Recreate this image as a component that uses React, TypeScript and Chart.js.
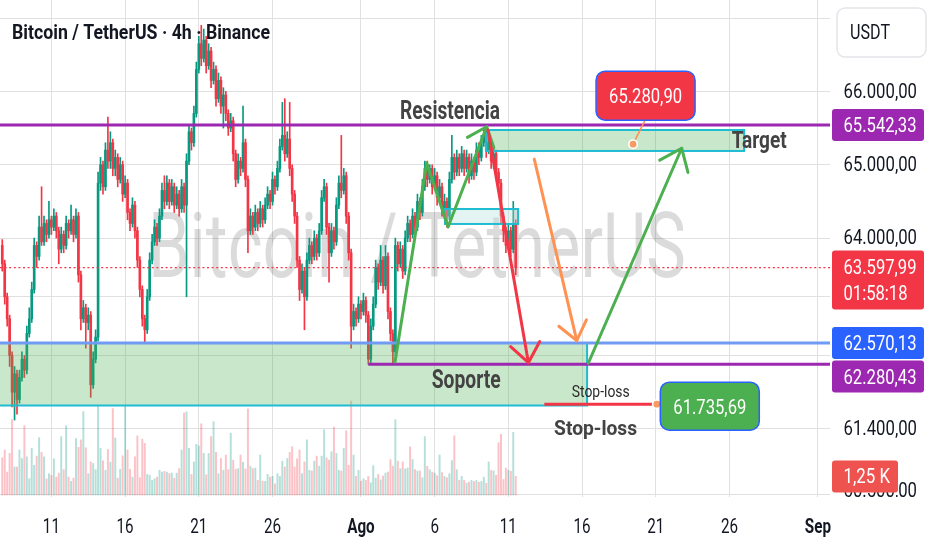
import React, { useEffect, useRef } from 'react';
import { Chart, registerables } from 'chart.js';
Chart.register(...registerables);

// ---------------- data ----------------
// x unit: day of July (Aug d = 31 + d, Sep 1 = 63)
const firstCandleDay = 7 + 4 / 6; // 7 Jul 16:00
const candleStepDays = 1 / 6; // 4h candles
const firstOpen = 63900;

const closes = [
  63650, 63200, 62900, 62400, 61900, 62150, 61800, 62100, 62350, 62200,
  62700, 62900, 63300, 63900, 63750, 64150, 63950, 64200, 64050, 64250,
  64150, 64300, 64100, 63850, 64050, 63900, 64200, 64100, 64250, 64050,
  64300, 63500, 62900, 63050, 62850, 62950, 62000, 62350, 62650, 64750,
  65000, 64700, 65200, 65050, 65300, 64950, 65100, 64800, 65000, 64600,
  64750, 64350, 64200, 64450, 64100, 63700, 63300, 62900, 62750, 63200,
  63700, 63950, 64150, 64000, 64300, 64650, 64500, 64750, 64500, 64700,
  64450, 64600, 64400, 64700, 64450, 65050, 65450, 65300, 65700, 66300,
  66650, 66450, 66700, 66350, 66550, 66150, 66300, 65900, 66150, 65800,
  65950, 65700, 65500, 65600, 65150, 64800, 65050, 64950, 65300, 64800,
  64100, 64300, 64150, 64350, 64200, 64400, 64250, 64450, 64600, 64500,
  64800, 64700, 64950, 65250, 65400, 65150, 65350, 64950, 64600, 64300,
  63700, 63300, 63550, 63200, 63700, 63900, 63750, 64000, 63800, 64100,
  64550, 64700, 64150, 63800, 64100, 63950, 64450, 64750, 64650, 64850,
  64300, 63800, 62800, 63000, 62900, 63100, 63000, 63150, 62950, 62350,
  62800, 63100, 63600, 63400, 63700, 63350, 63750, 63000, 62700, 62450,
  63900, 63650, 63850, 63550, 64000, 64200, 64050, 64300, 64150, 64500,
  64350, 64700, 64950, 64800, 64950, 64700, 64850, 64550, 64700, 64400,
  64500, 64300, 64800, 65100, 64900, 65100, 64950, 65150, 64950, 65100,
  64850, 65050, 64900, 65200, 65100, 65300, 65400, 65200, 65300, 65050,
  65150, 64900, 64750, 64300, 64100, 63900, 64100, 63850, 64200, 63597.99,
];

const highs = [
  63980, 63700, 63250, 62950, 62450, 62250, 62200, 62200, 62450, 62400,
  62800, 63050, 63400, 64000, 63950, 64300, 64700, 64300, 64250, 64500,
  64300, 64400, 64350, 64150, 64150, 64100, 64300, 64250, 64450, 64300,
  64400, 64350, 63550, 63150, 63100, 63050, 63000, 62450, 62750, 64900,
  65100, 65050, 65300, 65650, 65450, 65350, 65200, 65150, 65100, 65050,
  64850, 64800, 64400, 64550, 64500, 64150, 63750, 63350, 62950, 63300,
  63800, 64050, 64250, 64200, 64400, 64750, 64850, 64850, 64800, 64800,
  64750, 64700, 64650, 64800, 64750, 65150, 65550, 65500, 65800, 66400,
  66750, 66900, 66850, 66750, 66650, 66600, 66400, 66350, 66250, 66200,
  66050, 66000, 65750, 65700, 65650, 65200, 65150, 65100, 65800, 65350,
  64850, 64400, 64350, 64450, 64400, 64500, 64450, 64550, 64700, 64650,
  64900, 64850, 65050, 65350, 65850, 65900, 65450, 65850, 65000, 64650,
  64350, 63750, 63650, 63600, 63800, 64000, 63950, 64100, 64050, 64200,
  64650, 64800, 64750, 64200, 64200, 64150, 64550, 64850, 65400, 64950,
  64900, 64350, 63850, 63100, 63050, 63200, 63150, 63250, 63200, 63000,
  62900, 63200, 63700, 63650, 63900, 63750, 63900, 63800, 63050, 62750,
  64000, 63950, 63950, 63900, 64100, 64300, 64250, 64400, 64350, 64600,
  64550, 64800, 65050, 65050, 65000, 65000, 64950, 64900, 64800, 64750,
  64600, 64550, 64900, 65400, 65150, 65200, 65150, 65250, 65200, 65200,
  65150, 65150, 65100, 65300, 65300, 65400, 65480, 65520, 65400, 65350,
  65250, 65200, 64950, 64800, 64350, 64150, 64200, 64150, 64500, 64250,
];

const lows = [
  63550, 63100, 62800, 62250, 61700, 61520, 61600, 61750, 62050, 62100,
  62150, 62650, 62850, 63250, 63600, 63700, 63900, 63900, 63950, 64000,
  64050, 64100, 64000, 63650, 63800, 63800, 63850, 64000, 64050, 63950,
  64000, 63400, 62750, 62850, 62500, 62750, 61830, 61950, 62300, 62600,
  64650, 64600, 64650, 64950, 64950, 64850, 64850, 64700, 64750, 64500,
  64550, 64250, 64100, 64150, 64000, 63600, 63200, 62800, 62560, 62700,
  63150, 63650, 63900, 63900, 63950, 64250, 64400, 64450, 64400, 64450,
  64350, 64400, 64300, 64350, 64350, 63200, 65000, 65200, 65250, 65650,
  66250, 66350, 66400, 66250, 66300, 66050, 66100, 65800, 65850, 65700,
  65500, 65600, 65400, 65450, 65050, 64700, 64750, 64850, 64900, 64700,
  63800, 64050, 64050, 64100, 64100, 64150, 64150, 64200, 64400, 64400,
  64450, 64600, 64650, 64900, 65200, 65050, 65100, 64850, 64500, 64200,
  63600, 63150, 63250, 62750, 63150, 63650, 63650, 63700, 63700, 63750,
  64050, 64500, 64050, 63400, 63750, 63850, 63900, 64400, 64550, 64600,
  64200, 63700, 62500, 62750, 62800, 62850, 62900, 62950, 62850, 62280,
  62300, 62750, 63050, 63300, 63350, 63250, 63300, 62900, 62600, 62280,
  62400, 63550, 63600, 63450, 63500, 63950, 63950, 64000, 64050, 64100,
  64250, 64300, 64650, 64700, 64750, 64600, 64650, 64450, 64500, 64300,
  64350, 64150, 64250, 64750, 64800, 64850, 64850, 64900, 64850, 64900,
  64750, 64800, 64800, 64850, 65000, 65050, 65250, 65100, 65150, 64950,
  64950, 64800, 64650, 64200, 63950, 63800, 63850, 63750, 63800, 63500,
];

// volume in thousands (K)
const volumesK = [
  2.5, 3.02, 1.54, 2.79, 5.06, 1.88, 1.88, 3.02, 2.45, 4.65,
  2.56, 1.09, 3.13, 2.0, 2.61, 3.85, 2.86, 2.56, 1.09, 1.43,
  1.32, 2.43, 1.2, 1.47, 3.92, 1.7, 4.65, 1.2, 0.91, 1.13,
  3.79, 3.2, 3.7, 5.6, 3.17, 1.43, 2.22, 2.11, 1.7, 5.96,
  3.13, 2.29, 1.66, 3.06, 2.2, 5.8, 3.83, 1.13, 1.72, 2.63,
  5.96, 3.02, 1.72, 1.2, 2.56, 3.97, 1.16, 3.74, 3.47, 1.38,
  1.32, 0.98, 1.09, 1.2, 1.66, 1.54, 1.59, 1.54, 1.43, 1.47,
  1.13, 1.47, 1.77, 3.02, 5.51, 5.58, 3.13, 1.38, 2.22, 3.4,
  3.29, 4.78, 2.79, 1.36, 2.79, 3.92, 4.92, 2.86, 1.43, 2.45,
  1.66, 2.68, 1.7, 4.15, 2.34, 1.72, 1.77, 2.68, 2.2, 1.75,
  5.78, 1.93, 1.77, 1.81, 0.98, 2.68, 0.93, 0.91, 1.38, 1.2,
  1.25, 0.75, 1.43, 1.25, 2.27, 1.88, 2.45, 2.86, 3.24, 1.88,
  2.43, 3.02, 1.43, 2.22, 3.7, 1.66, 1.61, 2.27, 2.61, 1.93,
  2.61, 4.38, 2.49, 2.34, 2.9, 4.56, 2.79, 1.66, 1.61, 3.13,
  4.31, 2.0, 6.3, 2.68, 1.25, 1.66, 0.93, 1.09, 0.98, 1.25,
  0.82, 1.97, 1.13, 1.38, 1.02, 1.27, 1.47, 1.54, 2.38, 1.93,
  5.06, 2.27, 1.77, 2.22, 1.75, 1.81, 3.24, 2.38, 1.7, 1.61,
  1.61, 1.16, 3.92, 1.93, 1.7, 1.54, 1.47, 1.29, 2.68, 1.5,
  1.25, 1.16, 1.43, 2.31, 3.97, 1.7, 0.98, 1.25, 0.98, 0.79,
  0.86, 0.98, 0.91, 0.98, 0.86, 0.91, 1.2, 0.79, 2.22, 1.66,
  1.61, 1.32, 3.51, 4.08, 1.04, 1.81, 1.66, 1.59, 4.2, 1.25,
];

const xTickDays = [11, 16, 21, 26, 32, 37, 42, 47, 52, 57, 63];
const xTickLabels = ['11', '16', '21', '26', 'Ago', '6', '11', '16', '21', '26', 'Sep'];
const boldXLabels = ['Ago', 'Sep'];
const yGridPrices = [60500, 61400, 62400, 63200, 64000, 65000, 66000, 67000];
const yLabelPrices = [66000, 65000, 64000, 61400, 60500];

const xRange = [7.513, 63.82];
const yRange = [60471, 67246];
const volRange = [-0.134, 33.22];

const titleText = 'Bitcoin / TetherUS · 4h · Binance';
const watermarkText = 'Bitcoin / TetherUS';
const currencyText = 'USDT';

const resistancePrice = 65542.33;
const supportTopPrice = 62570.13;
const supportLinePrice = 62280.43;
const supportBottomPrice = 61720;
const lastPrice = 63597.99;
const countdownText = '01:58:18';
const targetPrice = 65280.9;
const stopLossPrice = 61735.69;
const lastVolumeText = '1,25 K';

// drawing anchors in (day, price)
const supportZone = { x0: 6.5, x1: 47.34, top: supportTopPrice, bottom: supportBottomPrice };
const targetZone = { x0: 40.48, x1: 57.99, top: 65474, bottom: 65188 };
const pullbackZone = { x0: 37.7, x1: 42.66, top: 64397, bottom: 64193 };
const supportLineStartDay = 32.5;
const greenPath1 = [[34.31, 62312], [36.46, 65024], [37.91, 64152], [40.53, 65519]];
const redPath = [[40.62, 65474], [43.36, 62302]];
const orangePath = [[43.76, 65075], [46.64, 62602]];
const greenPath2 = [[47.42, 62294], [53.76, 65225]];
const stopLineDays = [44.44, 52.07];
const targetDotDay = 50.46;

const textResistencia = { s: 'Resistencia', day: 34.65, price: 65740 };
const textTarget = { s: 'Target', day: 57.15, price: 65349 };
const textSoporte = { s: 'Soporte', day: 36.8, price: 62083 };
const textStopSmall = { s: 'Stop-loss', day: 46.3, price: 61919 };
const textStopBig = { s: 'Stop-loss', day: 45.1, price: 61419 };

// ---------------- helpers ----------------
const GREEN = '#089981';
const RED = '#f23645';

function fmt(v: number) {
  const [i, d] = v.toFixed(2).split('.');
  return i.replace(/\B(?=(\d{3})+(?!\d))/g, '.') + ',' + d;
}

function drawText(ctx: any, s: string, x: number, capMid: number, o: any) {
  ctx.save();
  ctx.font = `${o.weight ?? 400} ${o.size}px Roboto`;
  ctx.fillStyle = o.color;
  ctx.textAlign = 'left';
  ctx.textBaseline = 'alphabetic';
  const mw = ctx.measureText(s).width;
  const sx = o.width ? o.width / mw : (o.sx ?? 0.8);
  const w = mw * sx;
  const align = o.align ?? 'left';
  const left = align === 'left' ? x : align === 'center' ? x - w / 2 : x - w;
  ctx.translate(left, capMid + (o.size * 0.711) / 2);
  ctx.scale(sx, 1);
  ctx.fillText(s, 0, 0);
  ctx.restore();
}

function polyArrow(ctx: any, pts: number[][], color: string, head: number, ang: number) {
  ctx.save();
  ctx.strokeStyle = color;
  ctx.lineWidth = 3;
  ctx.lineCap = 'round';
  ctx.lineJoin = 'round';
  ctx.beginPath();
  pts.forEach(([x, y], i) => (i ? ctx.lineTo(x, y) : ctx.moveTo(x, y)));
  ctx.stroke();
  const [fx, fy] = pts[pts.length - 2];
  const [tx, ty] = pts[pts.length - 1];
  const a = Math.atan2(fy - ty, fx - tx);
  const r = (ang * Math.PI) / 180;
  ctx.beginPath();
  ctx.moveTo(tx + head * Math.cos(a + r), ty + head * Math.sin(a + r));
  ctx.lineTo(tx, ty);
  ctx.lineTo(tx + head * Math.cos(a - r), ty + head * Math.sin(a - r));
  ctx.stroke();
  ctx.restore();
}

function dot(ctx: any, x: number, y: number) {
  ctx.save();
  ctx.beginPath();
  ctx.arc(x, y, 4.2, 0, Math.PI * 2);
  ctx.fillStyle = '#f89a63';
  ctx.fill();
  ctx.lineWidth = 1.6;
  ctx.strokeStyle = '#ffffff';
  ctx.stroke();
  ctx.restore();
}

function roundBox(ctx: any, x: number, y: number, w: number, h: number, r: number, fill: string, stroke?: string) {
  ctx.save();
  ctx.beginPath();
  ctx.roundRect(x, y, w, h, r);
  ctx.fillStyle = fill;
  ctx.fill();
  if (stroke) {
    ctx.lineWidth = 1.5;
    ctx.strokeStyle = stroke;
    ctx.stroke();
  }
  ctx.restore();
}

const annotationPlugin = {
  id: 'tvAnnotations',
  beforeDatasetsDraw(chart: any) {
    const { ctx, chartArea: ca } = chart;
    ctx.save();
    ctx.beginPath();
    ctx.rect(ca.left, ca.top, ca.right - ca.left, ca.bottom - ca.top);
    ctx.clip();
    drawText(ctx, watermarkText, (ca.left + ca.right) / 2 + 2, (ca.top + ca.bottom) / 2 - 4, {
      size: 91, weight: 400, color: 'rgba(0,0,0,0.14)', align: 'center', width: 538,
    });
    ctx.restore();
  },
  afterDatasetsDraw(chart: any) {
    const { ctx, chartArea: ca, scales } = chart;
    const X = (d: number) => scales.x.getPixelForValue(d);
    const Y = (p: number) => scales.y.getPixelForValue(p);
    const P = (pts: number[][]) => pts.map(([d, p]) => [X(d), Y(p)]);
    ctx.save();
    ctx.beginPath();
    ctx.rect(ca.left, ca.top, ca.right - ca.left, ca.bottom - ca.top);
    ctx.clip();

    const zoneFill = 'rgba(76,175,80,0.3)';
    const cyan = '#1fbcd2';
    // support zone
    {
      const x0 = X(supportZone.x0), x1 = X(supportZone.x1);
      const y0 = Y(supportZone.top), y1 = Y(supportZone.bottom);
      ctx.fillStyle = zoneFill;
      ctx.fillRect(x0, y0, x1 - x0, y1 - y0);
      ctx.strokeStyle = cyan;
      ctx.lineWidth = 2;
      ctx.beginPath();
      ctx.moveTo(x0, y1);
      ctx.lineTo(x1, y1);
      ctx.lineTo(x1, y0);
      ctx.stroke();
    }
    // target zone
    {
      const x0 = X(targetZone.x0), x1 = X(targetZone.x1);
      const y0 = Y(targetZone.top), y1 = Y(targetZone.bottom);
      ctx.fillStyle = zoneFill;
      ctx.fillRect(x0, y0, x1 - x0, y1 - y0);
      ctx.strokeStyle = cyan;
      ctx.lineWidth = 2;
      ctx.strokeRect(x0, y0, x1 - x0, y1 - y0);
    }
    // pullback zone
    {
      const x0 = X(pullbackZone.x0), x1 = X(pullbackZone.x1);
      const y0 = Y(pullbackZone.top), y1 = Y(pullbackZone.bottom);
      ctx.fillStyle = 'rgba(178,223,219,0.35)';
      ctx.fillRect(x0, y0, x1 - x0, y1 - y0);
      ctx.strokeStyle = cyan;
      ctx.lineWidth = 2;
      ctx.strokeRect(x0, y0, x1 - x0, y1 - y0);
    }
    // horizontal lines
    const hline = (p: number, x0: number, color: string, w: number, dash?: number[]) => {
      ctx.save();
      ctx.strokeStyle = color;
      ctx.lineWidth = w;
      if (dash) ctx.setLineDash(dash);
      ctx.beginPath();
      const y = Y(p);
      ctx.moveTo(x0, y);
      ctx.lineTo(ca.right, y);
      ctx.stroke();
      ctx.restore();
    };
    hline(lastPrice, ca.left, RED, 1.3, [2, 2.6]);
    hline(supportTopPrice, ca.left, '#6f9cf2', 3);
    hline(resistancePrice, ca.left, '#9c27b0', 3);
    hline(supportLinePrice, X(supportLineStartDay), '#9c27b0', 3);

    // arrows
    polyArrow(ctx, P(greenPath1), '#4caf50', 22, 40);
    polyArrow(ctx, P(redPath), RED, 24, 38);
    polyArrow(ctx, P(orangePath), '#ff9152', 23, 38);
    polyArrow(ctx, P(greenPath2), '#4caf50', 25, 38);

    // stop-loss line
    {
      const y = Y(stopLossPrice);
      ctx.save();
      ctx.strokeStyle = RED;
      ctx.lineWidth = 3;
      ctx.beginPath();
      ctx.moveTo(X(stopLineDays[0]), y);
      ctx.lineTo(X(stopLineDays[1]), y);
      ctx.stroke();
      ctx.restore();
    }

    // texts
    const annColor = '#434343';
    drawText(ctx, textResistencia.s, X(textResistencia.day), Y(textResistencia.price), { size: 25, weight: 700, color: annColor, width: 100 });
    drawText(ctx, textTarget.s, X(textTarget.day), Y(textTarget.price), { size: 24, weight: 700, color: annColor, width: 55 });
    drawText(ctx, textSoporte.s, X(textSoporte.day), Y(textSoporte.price), { size: 25, weight: 700, color: annColor, width: 69 });
    drawText(ctx, textStopSmall.s, X(textStopSmall.day), Y(textStopSmall.price), { size: 16.5, weight: 400, color: '#2a2a2a', width: 58 });
    drawText(ctx, textStopBig.s, X(textStopBig.day), Y(textStopBig.price), { size: 21, weight: 700, color: annColor, width: 83 });

    // target callout
    {
      const dx = X(targetDotDay), dy = Y(targetPrice);
      ctx.save();
      ctx.strokeStyle = '#ff9152';
      ctx.lineWidth = 1.5;
      ctx.beginPath();
      ctx.moveTo(dx, dy);
      ctx.lineTo(dx + 12, dy - 24);
      ctx.stroke();
      ctx.restore();
      dot(ctx, dx, dy);
      const bx = dx - 37, by = dy - 73;
      roundBox(ctx, bx, by, 99, 49, 9, RED, '#2962ff');
      drawText(ctx, fmt(targetPrice), bx + 49.5, by + 25, { size: 20, color: '#ffffff', align: 'center', width: 73 });
    }
    // stop callout
    {
      const dx = X(stopLineDays[1]), dy = Y(stopLossPrice);
      dot(ctx, dx, dy);
      const bx = dx + 3.5, by = dy - 22;
      roundBox(ctx, bx, by, 99, 48, 9, '#4caf50', '#2962ff');
      drawText(ctx, fmt(stopLossPrice), bx + 49.5, by + 24.5, { size: 21, color: '#ffffff', align: 'center', width: 73 });
    }
    ctx.restore();
  },
  afterDraw(chart: any) {
    const { ctx, chartArea: ca, scales } = chart;
    const X = (d: number) => scales.x.getPixelForValue(d);
    const Y = (p: number) => scales.y.getPixelForValue(p);
    const axisText = '#131722';
    const labLeft = ca.right + 13.5;
    const boxLeft = ca.right + 2;

    // price axis labels
    ctx.save();
    ctx.beginPath();
    ctx.rect(ca.right, 0, 200, ca.bottom);
    ctx.clip();
    yLabelPrices.forEach((p) => {
      const y = Y(p);
      const capMid = y > ca.bottom - 10 ? y - 4.5 : y - 1;
      drawText(ctx, fmt(p), labLeft, capMid, { size: 20, color: axisText, width: 73.5 });
    });
    ctx.restore();

    // USDT box
    roundBox(ctx, ca.right + 7, 8, 89, 49, 8, '#ffffff', '#e3e5ea');
    drawText(ctx, currencyText, ca.right + 20, 32, { size: 20, color: axisText, width: 40 });

    // price boxes
    const yRes = Y(resistancePrice);
    roundBox(ctx, boxLeft, yRes - 16, 92, 32, 3, '#9c27b0');
    drawText(ctx, fmt(resistancePrice), labLeft, yRes, { size: 20, color: '#fff', width: 73 });

    const yLast = Y(lastPrice);
    roundBox(ctx, boxLeft, yLast - 17, 92, 59, 3, RED);
    drawText(ctx, fmt(lastPrice), labLeft, yLast - 0.5, { size: 20, color: '#fff', width: 73 });
    drawText(ctx, countdownText, labLeft, yLast + 25.5, { size: 20, color: '#fff', width: 64 });

    const yTop = Y(supportTopPrice);
    roundBox(ctx, boxLeft, yTop - 16, 92, 32, 3, '#2962ff');
    drawText(ctx, fmt(supportTopPrice), labLeft, yTop, { size: 20, color: '#fff', width: 73 });

    const ySupBox = yTop + 17.5;
    roundBox(ctx, boxLeft, ySupBox, 92, 32, 3, '#9c27b0');
    drawText(ctx, fmt(supportLinePrice), labLeft, ySupBox + 16, { size: 20, color: '#fff', width: 73 });

    const yVol = scales.yv.getPixelForValue(volumesK[volumesK.length - 1]);
    roundBox(ctx, boxLeft, yVol - 16, 66, 32, 3, '#ef5350');
    drawText(ctx, lastVolumeText, labLeft, yVol - 0.5, { size: 20, color: '#fff', width: 46.5 });

    // time axis labels
    xTickDays.forEach((d, i) => {
      const lab = xTickLabels[i];
      drawText(ctx, lab, X(d), ca.bottom + 28.5, {
        size: 20, weight: boldXLabels.includes(lab) ? 700 : 400, color: axisText, align: 'center', sx: 0.76,
      });
    });

    // title
    drawText(ctx, titleText, 12, 32, { size: 20, weight: 700, color: axisText, width: 258 });
  },
};

export default function App() {
  const ref = useRef<HTMLCanvasElement | null>(null);
  useEffect(() => {
    if (!ref.current) return;
    const opens = closes.map((c, i) => (i === 0 ? firstOpen : closes[i - 1]));
    const days = closes.map((_, i) => firstCandleDay + i * candleStepDays);
    const up = closes.map((c, i) => c >= opens[i]);
    const colors = up.map((u) => (u ? GREEN : RED));
    const volColors = up.map((u) => (u ? 'rgba(8,153,129,0.3)' : 'rgba(242,54,69,0.3)'));

    const chart = new Chart(ref.current, {
      type: 'bar',
      data: {
        datasets: [
          {
            label: 'Volume',
            data: days.map((d, i) => ({ x: d, y: [0, volumesK[i]] })),
            yAxisID: 'yv',
            backgroundColor: volColors,
            barThickness: 1.3,
            grouped: false,
            order: 3,
          },
          {
            label: 'Wick',
            data: days.map((d, i) => ({ x: d, y: [lows[i], highs[i]] })),
            yAxisID: 'y',
            backgroundColor: colors,
            barThickness: 1,
            grouped: false,
            order: 2,
          },
          {
            label: 'Body',
            data: days.map((d, i) => ({ x: d, y: [opens[i], closes[i]] })),
            yAxisID: 'y',
            backgroundColor: colors,
            barThickness: 2,
            grouped: false,
            order: 1,
          },
        ],
      } as any,
      options: {
        responsive: false,
        animation: false,
        events: [],
        layout: { padding: 0 },
        plugins: { legend: { display: false }, tooltip: { enabled: false } },
        scales: {
          x: {
            type: 'linear',
            min: xRange[0],
            max: xRange[1],
            offset: false,
            grid: { color: '#e0e0e0', drawTicks: false, offset: false },
            border: { display: false },
            ticks: { display: false },
            afterBuildTicks: (s: any) => {
              s.ticks = xTickDays.map((v) => ({ value: v }));
            },
            afterFit: (s: any) => {
              s.height = 53;
            },
          },
          y: {
            type: 'linear',
            position: 'right',
            min: yRange[0],
            max: yRange[1],
            grid: { color: '#e0e0e0', drawTicks: false },
            border: { display: false },
            ticks: { display: false },
            afterBuildTicks: (s: any) => {
              s.ticks = yGridPrices.map((v) => ({ value: v }));
            },
            afterFit: (s: any) => {
              s.width = 102;
            },
          },
          yv: {
            type: 'linear',
            display: false,
            min: volRange[0],
            max: volRange[1],
          },
        },
      } as any,
      plugins: [annotationPlugin],
    });
    return () => chart.destroy();
  }, []);

  return (
    <div style={{ position: 'absolute', left: 0, top: 0, width: 932, height: 550, background: '#ffffff' }}>
      <canvas ref={ref} width={932} height={550} style={{ display: 'block' }} />
    </div>
  );
}
